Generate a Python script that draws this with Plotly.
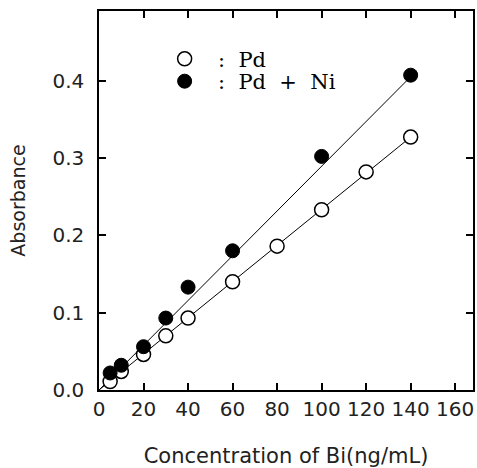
import plotly.graph_objects as go

# Data
conc_pd = [5, 10, 20, 30, 40, 60, 80, 100, 120, 140]
abs_pd = [0.011, 0.024, 0.046, 0.070, 0.093, 0.140, 0.186, 0.233, 0.282, 0.327]
conc_pdni = [5, 10, 20, 30, 40, 60, 100, 140]
abs_pdni = [0.022, 0.032, 0.056, 0.093, 0.133, 0.180, 0.302, 0.407]
fit_x = [0, 140]
fit_pd = [0.0, 0.327]
fit_pdni = [0.0, 0.405]
x_ticks = [0, 20, 40, 60, 80, 100, 120, 140, 160]
y_ticks = [0.0, 0.1, 0.2, 0.3, 0.4]
y_ticklabels = ["0.0", "0.1", "0.2", "0.3", "0.4"]

fig = go.Figure()
fig.add_trace(go.Scatter(x=fit_x, y=fit_pd, mode="lines",
                         line=dict(color="black", width=1), showlegend=False))
fig.add_trace(go.Scatter(x=fit_x, y=fit_pdni, mode="lines",
                         line=dict(color="black", width=1), showlegend=False))
fig.add_trace(go.Scatter(x=conc_pd, y=abs_pd, mode="markers",
                         name="\u00a0\u00a0: \u00a0Pd", legend="legend",
                         marker=dict(symbol="circle", size=14, color="white",
                                     line=dict(color="black", width=1.5))))
fig.add_trace(go.Scatter(x=conc_pdni, y=abs_pdni, mode="markers",
                         name="\u00a0\u00a0: \u00a0Pd \u00a0+ \u00a0Ni", legend="legend2",
                         marker=dict(symbol="circle", size=14, color="black",
                                     line=dict(color="black", width=1))))

leg_font = dict(family="DejaVu Serif", size=21, color="black")
tick_font = dict(family="DejaVu Sans", size=20, color="#222")
fig.update_layout(
    width=477, height=468,
    margin=dict(l=99, r=2, t=11, b=78),
    paper_bgcolor="white", plot_bgcolor="white",
    showlegend=True,
    legend=dict(x=0.1755, y=0.927, xanchor="left", yanchor="top",
                bgcolor="rgba(0,0,0,0)", font=leg_font, itemwidth=30),
    legend2=dict(x=0.1755, y=0.868, xanchor="left", yanchor="top",
                 bgcolor="rgba(0,0,0,0)", font=leg_font, itemwidth=30),
    xaxis=dict(range=[0, 168], tickvals=x_ticks, ticks="inside", ticklen=7,
               tickwidth=1.5, tickcolor="black", showline=True, linecolor="black",
               linewidth=1.5, mirror="ticks", showgrid=False, zeroline=False,
               tickfont=tick_font,
               title=dict(text="Concentration of Bi(ng/mL)",
                          font=dict(family="DejaVu Sans", size=21, color="#222"),
                          standoff=31)),
    yaxis=dict(range=[0, 0.49], tickvals=y_ticks, ticktext=y_ticklabels,
               ticks="inside", ticklen=7, tickwidth=1.5, tickcolor="black",
               showline=True, linecolor="black", linewidth=1.5, mirror="ticks",
               showgrid=False, zeroline=False, tickfont=tick_font,
               ticklabelstandoff=9,
               title=dict(text="Absorbance",
                          font=dict(family="DejaVu Sans", size=19, color="#222"),
                          standoff=22)),
)
fig.write_html("out.html")
